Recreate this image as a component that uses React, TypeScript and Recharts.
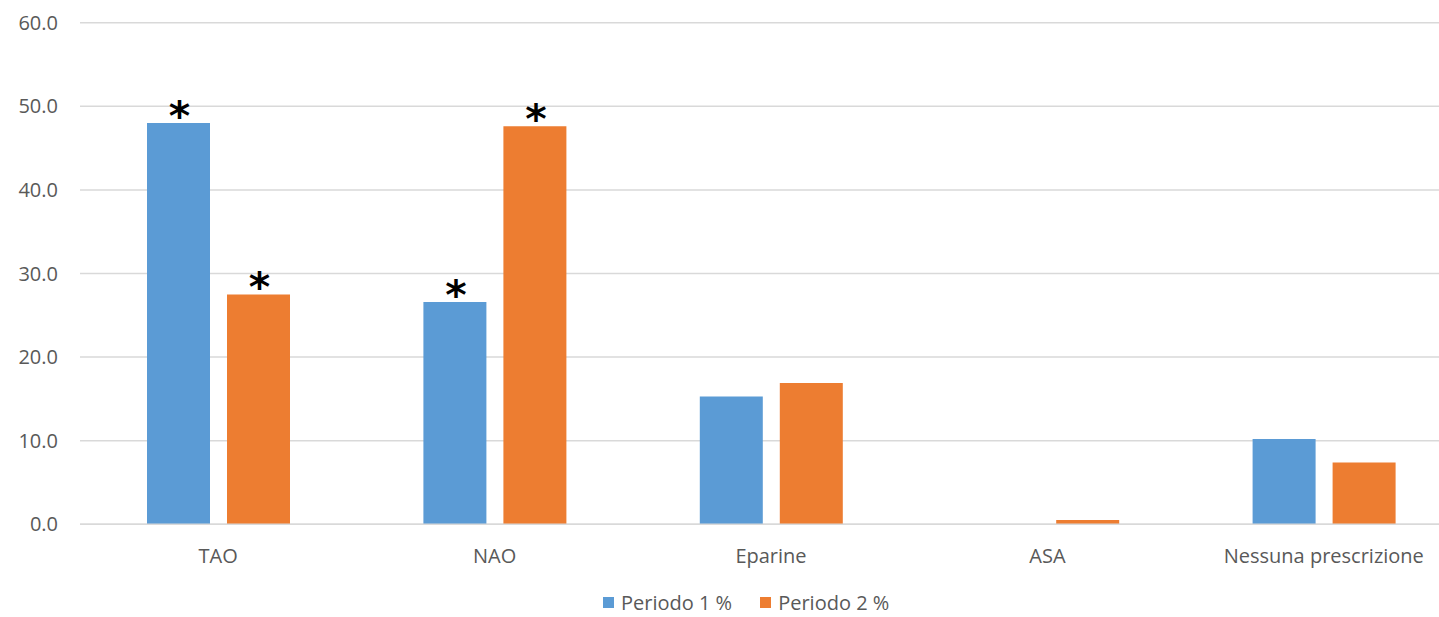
import { BarChart, Bar, XAxis, YAxis, CartesianGrid, Legend, LabelList } from 'recharts';

const categories = ['TAO', 'NAO', 'Eparine', 'ASA', 'Nessuna prescrizione'];
const periodo1 = [48.0, 26.6, 15.3, 0.0, 10.2];
const periodo2 = [27.5, 47.6, 16.9, 0.5, 7.4];
// asterisks marking significant differences
const periodo1Sig = [true, true, false, false, false];
const periodo2Sig = [true, true, false, false, false];
const yTicks = [0, 10, 20, 30, 40, 50, 60];

const BLUE = '#5B9BD5';
const ORANGE = '#ED7D31';
const TEXT = '#595959';
const FONT = '"Open Sans", "Noto Sans", sans-serif';

const data = categories.map((name, i) => ({
    name,
    p1: periodo1[i],
    p2: periodo2[i],
}));

const star = (flags: boolean[]) => (props: any) => {
    const { x, y, width, index } = props;
    if (!flags[index]) return null;
    return (
        <text
            x={Number(x) + Number(width) / 2 + 1}
            y={Number(y) + 7}
            textAnchor="middle"
            fontFamily="DejaVu Sans"
            fontWeight="bold"
            fontSize={41}
            fill="#000"
        >
            *
        </text>
    );
};

const renderLegend = () => (
    <div style={{ display: 'flex', alignItems: 'center', fontFamily: FONT, fontSize: 20, color: TEXT }}>
        {[
            { label: 'Periodo 1 %', color: BLUE },
            { label: 'Periodo 2 %', color: ORANGE },
        ].map((item, i) => (
            <div key={item.label} style={{ display: 'flex', alignItems: 'center', marginLeft: i ? 28 : 0 }}>
                <span style={{ width: 11, height: 11, background: item.color, display: 'inline-block', marginRight: 7 }} />
                <span>{item.label}</span>
            </div>
        ))}
    </div>
);

export default function App() {
    return (
        <div style={{ position: 'absolute', left: 0, top: 0, width: 1439, height: 617, overflow: 'hidden', background: '#fff' }}>
            <BarChart
                width={1470}
                height={617}
                data={data}
                margin={{ top: 22.7, right: 8, left: 0, bottom: 62.7 }}
                barCategoryGap={67}
                barGap={17}
            >
                <CartesianGrid vertical={false} stroke="#d9d9d9" strokeWidth={1.5} />
                <XAxis
                    dataKey="name"
                    height={30}
                    tickLine={false}
                    axisLine={{ stroke: '#d9d9d9', strokeWidth: 1.5 }}
                    tickMargin={18.6}
                    tick={{ fill: TEXT, fontSize: 20, fontFamily: FONT }}
                    interval={0}
                />
                <YAxis
                    width={80}
                    domain={[0, 60]}
                    ticks={yTicks}
                    tickFormatter={(v: number) => v.toFixed(1)}
                    tickLine={false}
                    axisLine={false}
                    tickMargin={16}
                    tick={{ fill: TEXT, fontSize: 20, fontFamily: FONT }}
                />
                <Legend
                    layout="horizontal"
                    verticalAlign="middle"
                    align="center"
                    wrapperStyle={{ top: 589, left: 603, width: 400 }}
                    content={renderLegend}
                />
                <Bar dataKey="p1" name="Periodo 1 %" fill={BLUE} isAnimationActive={false}>
                    <LabelList dataKey="p1" content={star(periodo1Sig)} />
                </Bar>
                <Bar dataKey="p2" name="Periodo 2 %" fill={ORANGE} isAnimationActive={false}>
                    <LabelList dataKey="p2" content={star(periodo2Sig)} />
                </Bar>
            </BarChart>
        </div>
    );
}
